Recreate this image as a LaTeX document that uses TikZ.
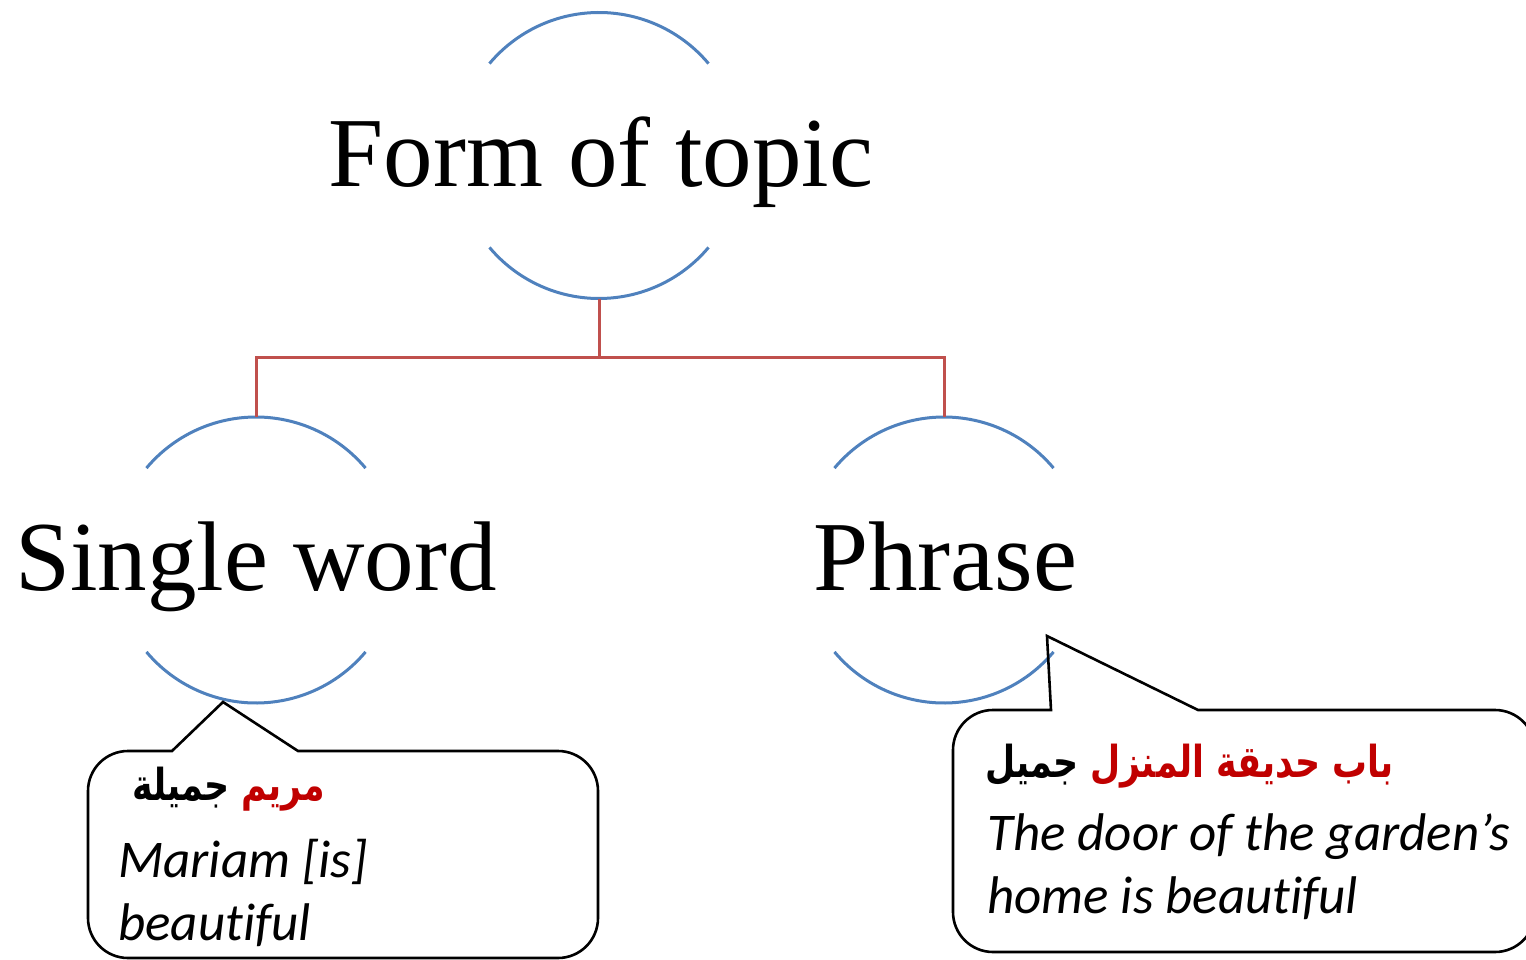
\documentclass[tikz,border=0pt]{standalone}
\usepackage{fontspec}
\setmainfont{Liberation Serif}
\newfontfamily\glossfont[Ligatures=NoCommon]{Carlito}
\newfontfamily\arabicfont[Script=Arabic]{DejaVu Sans}
\TeXXeTstate=1
\definecolor{arcblue}{HTML}{4F81BD}
\definecolor{linkred}{HTML}{C0504D}
\definecolor{arabred}{HTML}{C00000}
% narrowed bold Arabic words
\newcommand{\arabword}[1]{\scalebox{0.79}[1]{\arabicfont\bfseries\fontsize{44}{50}\selectfont\beginR #1\endR}}
\begin{document}
\begin{tikzpicture}[x=1pt,y=1pt,
  ring/.style={circle,minimum size=286pt,inner sep=0pt,draw=none},
  arcline/.style={draw=arcblue,line width=3pt},
  link/.style={draw=linkred,line width=3pt},
  callout/.style={draw=black,line width=2.6pt,line join=miter},
  title/.style={font=\fontsize{99}{110}\selectfont,anchor=base,inner sep=0pt},
  gloss/.style={font=\glossfont\itshape\fontsize{53}{60}\selectfont,anchor=base west,inner sep=0pt},
  arab/.style={inner sep=0pt}]
\useasboundingbox (0,0) rectangle (1526,-960);
\clip (0,0) rectangle (1526,-960);

% circular frames of the three concepts
\node[ring] (top) at (599,-155.5) {};
\node[ring] (single) at (256,-560) {};
\node[ring] (phrase) at (944,-560) {};

\foreach \n in {top,single,phrase}{
  \draw[arcline] ([shift={(40:143)}]\n.center) arc[start angle=40,end angle=140,radius=143];
  \draw[arcline] ([shift={(220:143)}]\n.center) arc[start angle=220,end angle=320,radius=143];
}

% labels
\node[title] (toplabel) at (601,-187) {Form of topic};
\node[title] (singlelabel) at (256,-590) {Single word};
\node[title] (phraselabel) at (945,-590) {Phrase};

% tree connectors
\draw[link] (top.south) -- ++(0,-59) -| (single.north);
\draw[link] (top.south) -- ++(0,-59) -| (phrase.north);

% callout with the single-word example
\coordinate (ltip) at (223,-702);
\draw[callout] (172,-751) -- (ltip) -- (298,-751) -- (558,-751)
  arc[start angle=90,end angle=0,radius=40] -- (598,-918)
  arc[start angle=0,end angle=-90,radius=40] -- (128,-958)
  arc[start angle=270,end angle=180,radius=40] -- (88,-791)
  arc[start angle=180,end angle=90,radius=40] -- cycle;
\node[arab,anchor=base east,text=arabred] (lred) at (325,-800) {\arabword{مريم}};
\node[arab,anchor=base east] (lblack) at ([xshift=-11pt]lred.base west) {\arabword{جميلة}};
\node[gloss] (lgloss1) at (118,-877) {Mariam [is]};
\node[gloss] (lgloss2) at (118,-940) {beautiful};

% callout with the phrase example
\coordinate (rtip) at (1047,-636);
\draw[callout] (1051,-710) -- (rtip) -- (1198,-710) -- (1495,-710)
  arc[start angle=90,end angle=0,radius=40] -- (1535,-912)
  arc[start angle=0,end angle=-90,radius=40] -- (993,-952)
  arc[start angle=270,end angle=180,radius=40] -- (953,-750)
  arc[start angle=180,end angle=90,radius=40] -- cycle;
\node[arab,anchor=base west] (rblack) at (985,-777) {\arabword{جميل}};
\node[arab,anchor=base west,text=arabred] (rred) at ([xshift=11pt]rblack.base east) {\arabword{باب حديقة المنزل}};
\node[gloss] (rgloss1) at (987,-850) {The door of the garden’s};
\node[gloss] (rgloss2) at (987,-913) {home is beautiful};
\end{tikzpicture}
\end{document}
